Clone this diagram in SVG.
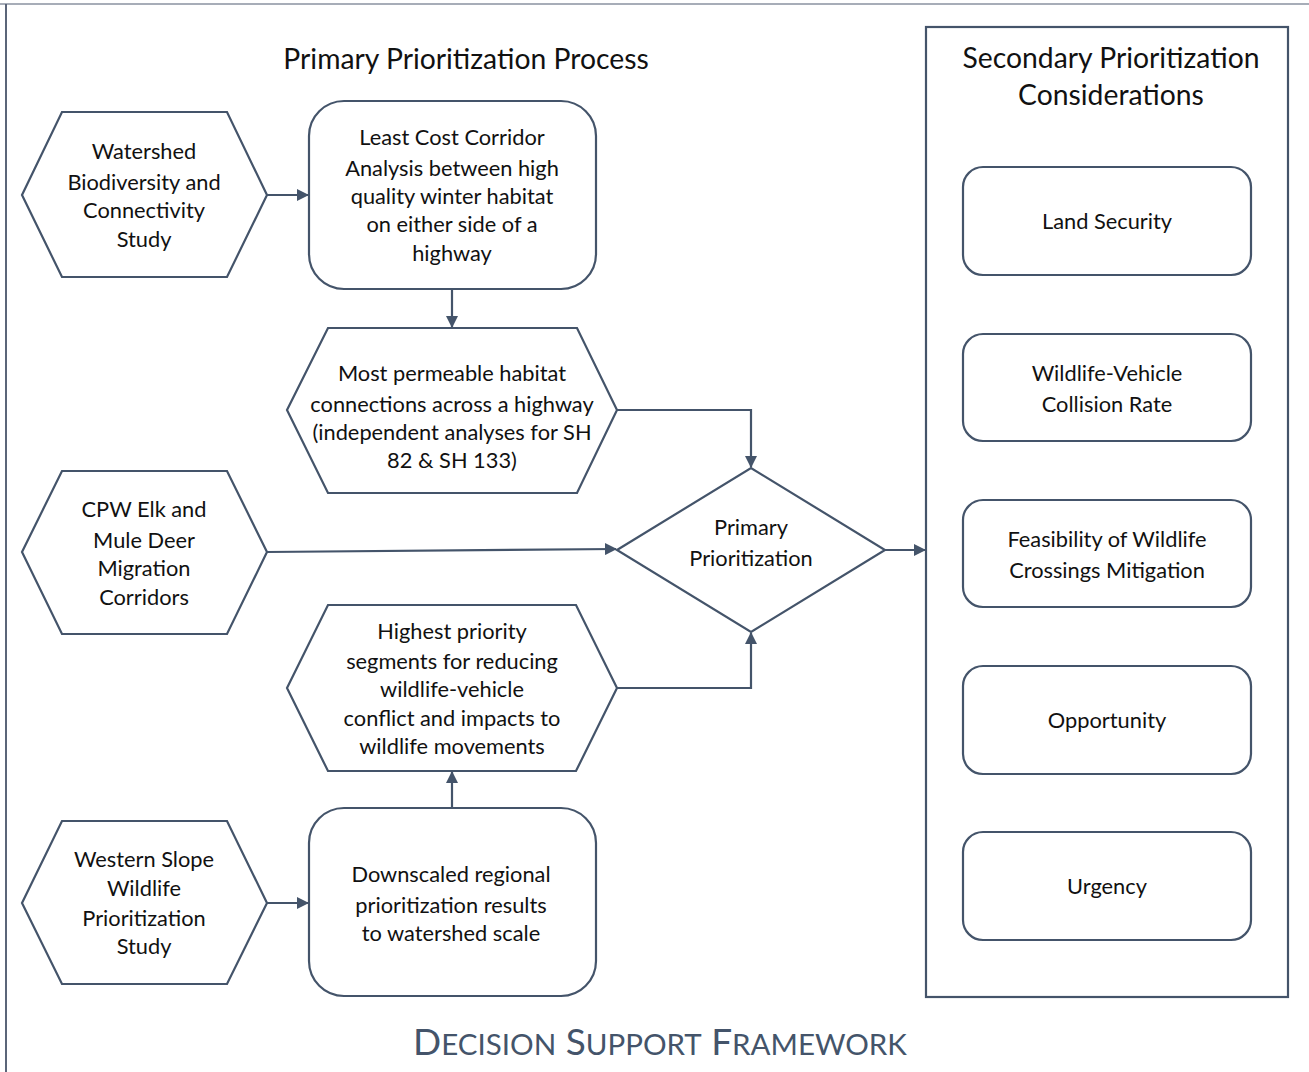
<svg xmlns="http://www.w3.org/2000/svg" width="1309" height="1072" viewBox="0 0 1309 1072">
<style>
.s{fill:#fff;stroke:#44546a;stroke-width:2.2;stroke-linejoin:miter}
.t{font-family:Lato,"Liberation Sans",sans-serif;font-size:21.8px;fill:#111;text-anchor:middle}
.h{font-family:Lato,"Liberation Sans",sans-serif;font-size:28.3px;fill:#111;text-anchor:middle}
.c{fill:none;stroke:#44546a;stroke-width:2.2}
.ti{font-family:Lato,"Liberation Sans",sans-serif;fill:#44546a;text-anchor:middle}
</style>
<defs>
<marker id="a" markerWidth="12" markerHeight="12" viewBox="0 0 12 12" refX="11" refY="6" orient="auto" markerUnits="userSpaceOnUse">
<path d="M0,0 L12,6 L0,12 z" fill="#44546a"/>
</marker>
</defs>
<rect width="1309" height="1072" fill="#fff"/>
<line x1="0" y1="4" x2="1309" y2="4" stroke="#a7adb8" stroke-width="2"/>
<line x1="6" y1="4" x2="6" y2="1072" stroke="#5b6579" stroke-width="2"/>
<text class="h" x="466" y="69">Primary Prioritization Process</text>
<g id="secondary">
<rect class="s" x="926" y="27" width="362" height="970"/>
<text class="h" x="1111" y="68">Secondary Prioritization</text>
<text class="h" x="1111" y="105">Considerations</text>
</g>
<g id="n-land"><rect class="s" x="963" y="167" width="288" height="108" rx="20"/><text class="t" x="1107" y="229">Land Security</text></g>
<g id="n-wvc"><rect class="s" x="963" y="334" width="288" height="107" rx="20"/><text class="t" x="1107" y="381">Wildlife-Vehicle</text><text class="t" x="1107" y="412">Collision Rate</text></g>
<g id="n-feas"><rect class="s" x="963" y="500" width="288" height="107" rx="20"/><text class="t" x="1107" y="547">Feasibility of Wildlife</text><text class="t" x="1107" y="578">Crossings Mitigation</text></g>
<g id="n-opp"><rect class="s" x="963" y="666" width="288" height="108" rx="20"/><text class="t" x="1107" y="728">Opportunity</text></g>
<g id="n-urg"><rect class="s" x="963" y="832" width="288" height="108" rx="20"/><text class="t" x="1107" y="894">Urgency</text></g>
<g id="connectors">
<line class="c" x1="267" y1="195" x2="308" y2="195" marker-end="url(#a)"/>
<line class="c" x1="452" y1="289" x2="452" y2="327" marker-end="url(#a)"/>
<polyline class="c" points="617,410 751,410 751,467" marker-end="url(#a)"/>
<line class="c" x1="267" y1="552" x2="616" y2="549" marker-end="url(#a)"/>
<polyline class="c" points="617,688 751,688 751,633" marker-end="url(#a)"/>
<line class="c" x1="452" y1="808" x2="452" y2="772" marker-end="url(#a)"/>
<line class="c" x1="267" y1="903" x2="308" y2="903" marker-end="url(#a)"/>
<line class="c" x1="885" y1="550" x2="925" y2="550" marker-end="url(#a)"/>
</g>
<g id="n-watershed"><polygon class="s" points="22,195 62,112 227,112 267,195 227,277 62,277"/>
<text class="t" x="144" y="159">Watershed</text><text class="t" x="144" y="190">Biodiversity and</text><text class="t" x="144" y="218">Connectivity</text><text class="t" x="144" y="247">Study</text></g>
<g id="n-lcc"><rect class="s" x="309" y="101" width="287" height="188" rx="35"/>
<text class="t" x="452" y="145">Least Cost Corridor</text><text class="t" x="452" y="176">Analysis between high</text><text class="t" x="452" y="204">quality winter habitat</text><text class="t" x="452" y="232">on either side of a</text><text class="t" x="452" y="261">highway</text></g>
<g id="n-perm"><polygon class="s" points="287,410 328,328 577,328 617,410 577,493 328,493"/>
<text class="t" x="452" y="381">Most permeable habitat</text><text class="t" x="452" y="412">connections across a highway</text><text class="t" x="452" y="440">(independent analyses for SH</text><text class="t" x="452" y="468">82 &amp; SH 133)</text></g>
<g id="n-primary"><polygon class="s" points="617,550 751,468 885,550 751,632"/>
<text class="t" x="751" y="535">Primary</text><text class="t" x="751" y="566">Prioritization</text></g>
<g id="n-cpw"><polygon class="s" points="22,552 62,471 227,471 267,552 227,634 62,634"/>
<text class="t" x="144" y="517">CPW Elk and</text><text class="t" x="144" y="548">Mule Deer</text><text class="t" x="144" y="576">Migration</text><text class="t" x="144" y="605">Corridors</text></g>
<g id="n-high"><polygon class="s" points="287,688 328,605 576,605 617,688 576,771 328,771"/>
<text class="t" x="452" y="639">Highest priority</text><text class="t" x="452" y="669">segments for reducing</text><text class="t" x="452" y="697">wildlife-vehicle</text><text class="t" x="452" y="726">conflict and impacts to</text><text class="t" x="452" y="754">wildlife movements</text></g>
<g id="n-western"><polygon class="s" points="22,903 62,821 227,821 267,903 227,984 62,984"/>
<text class="t" x="144" y="867">Western Slope</text><text class="t" x="144" y="896">Wildlife</text><text class="t" x="144" y="926">Prioritization</text><text class="t" x="144" y="954">Study</text></g>
<g id="n-down"><rect class="s" x="309" y="808" width="287" height="188" rx="35"/>
<text class="t" x="451" y="882">Downscaled regional</text><text class="t" x="451" y="913">prioritization results</text><text class="t" x="451" y="941">to watershed scale</text></g>
<text class="ti" x="660" y="1055" font-size="37">D<tspan font-size="29.5">ECISION</tspan> S<tspan font-size="29.5">UPPORT</tspan> F<tspan font-size="29.5">RAMEWORK</tspan></text>
</svg>
